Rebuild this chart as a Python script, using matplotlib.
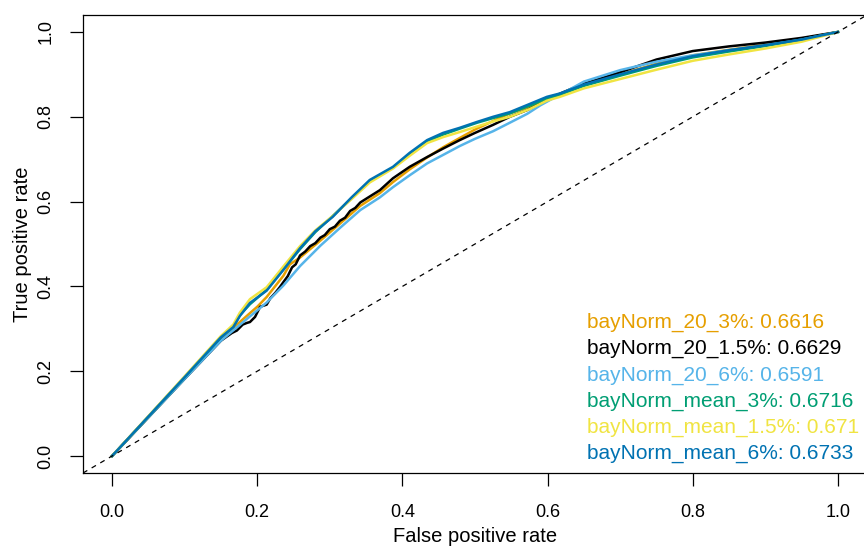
import matplotlib
matplotlib.use("Agg")
import matplotlib.pyplot as plt
from matplotlib.lines import Line2D

plt.rcParams['font.family'] = ['Liberation Sans', 'DejaVu Sans']

# ---- data ----
names = ["bayNorm_20_3%", "bayNorm_20_1.5%", "bayNorm_20_6%",
         "bayNorm_mean_3%", "bayNorm_mean_1.5%", "bayNorm_mean_6%"]
aucs = [0.6616, 0.6629, 0.6591, 0.6716, 0.671, 0.6733]
colors = ["#E69F00", "#000000", "#56B4E9", "#009E73", "#F0E442", "#0072B2"]

fpr_20_3 = [0, 0.05, 0.10, 0.15, 0.18, 0.20, 0.213, 0.236, 0.245, 0.259, 0.287, 0.314, 0.342,
            0.369, 0.387, 0.41, 0.434, 0.456, 0.479, 0.50, 0.525, 0.548, 0.572, 0.594, 0.61,
            0.63, 0.65, 0.70, 0.75, 0.80, 0.85, 0.90, 0.95, 1.0]
tpr_20_3 = [0, 0.092, 0.184, 0.276, 0.322, 0.352, 0.375, 0.425, 0.452, 0.468, 0.508, 0.548, 0.59,
            0.62, 0.646, 0.676, 0.704, 0.728, 0.75, 0.77, 0.79, 0.808, 0.822, 0.835, 0.846,
            0.862, 0.876, 0.9, 0.925, 0.945, 0.958, 0.97, 0.984, 1.0]

fpr_20_15 = [0, 0.05, 0.10, 0.15, 0.165, 0.172, 0.18, 0.186, 0.19, 0.197, 0.204, 0.213, 0.218,
             0.225, 0.231, 0.236, 0.242, 0.248, 0.253, 0.259, 0.266, 0.273, 0.28, 0.287, 0.293,
             0.30, 0.307, 0.314, 0.321, 0.328, 0.335, 0.342, 0.355, 0.369, 0.387, 0.41, 0.434,
             0.456, 0.479, 0.50, 0.525, 0.548, 0.572, 0.59, 0.607, 0.63, 0.65, 0.70, 0.75, 0.80,
             0.85, 0.90, 0.95, 1.0]
tpr_20_15 = [0, 0.091, 0.182, 0.272, 0.29, 0.296, 0.31, 0.314, 0.316, 0.328, 0.352, 0.357, 0.372,
             0.385, 0.398, 0.41, 0.424, 0.445, 0.452, 0.473, 0.482, 0.495, 0.502, 0.515, 0.521,
             0.535, 0.541, 0.555, 0.562, 0.578, 0.585, 0.598, 0.612, 0.627, 0.655, 0.682, 0.705,
             0.725, 0.745, 0.762, 0.781, 0.80, 0.816, 0.832, 0.847, 0.864, 0.878, 0.905, 0.935,
             0.955, 0.966, 0.975, 0.986, 1.0]

fpr_20_6 = [0, 0.05, 0.10, 0.15, 0.18, 0.213, 0.236, 0.259, 0.287, 0.314, 0.342, 0.369, 0.387,
            0.41, 0.434, 0.456, 0.479, 0.50, 0.525, 0.548, 0.572, 0.59, 0.607, 0.63, 0.65, 0.70,
            0.75, 0.80, 0.85, 0.90, 0.95, 1.0]
tpr_20_6 = [0, 0.091, 0.182, 0.272, 0.315, 0.362, 0.402, 0.448, 0.496, 0.538, 0.58, 0.61, 0.634,
            0.662, 0.69, 0.71, 0.731, 0.748, 0.766, 0.786, 0.807, 0.827, 0.843, 0.864, 0.883,
            0.91, 0.93, 0.945, 0.957, 0.968, 0.982, 1.0]

fpr_mean = [0, 0.05, 0.10, 0.15, 0.167, 0.176, 0.19, 0.213, 0.236, 0.259, 0.28, 0.304, 0.33,
            0.355, 0.387, 0.41, 0.434, 0.456, 0.479, 0.503, 0.525, 0.548, 0.575, 0.599, 0.617,
            0.65, 0.70, 0.75, 0.80, 0.85, 0.90, 0.95, 1.0]
tpr_mean_3 = [0, 0.093, 0.186, 0.28, 0.305, 0.332, 0.358, 0.392, 0.44, 0.488, 0.528, 0.566, 0.608,
              0.648, 0.68, 0.712, 0.742, 0.758, 0.772, 0.786, 0.797, 0.808, 0.826, 0.843, 0.852,
              0.873, 0.897, 0.92, 0.94, 0.954, 0.967, 0.981, 1.0]
tpr_mean_15 = [0, 0.094, 0.188, 0.283, 0.31, 0.338, 0.37, 0.398, 0.447, 0.495, 0.532, 0.566, 0.606,
               0.645, 0.678, 0.708, 0.738, 0.752, 0.764, 0.777, 0.789, 0.80, 0.818, 0.838, 0.847,
               0.867, 0.889, 0.911, 0.932, 0.947, 0.961, 0.977, 1.0]
tpr_mean_6 = [0, 0.093, 0.186, 0.28, 0.304, 0.33, 0.361, 0.39, 0.439, 0.49, 0.53, 0.564, 0.61,
              0.651, 0.682, 0.715, 0.745, 0.762, 0.774, 0.788, 0.80, 0.811, 0.83, 0.847, 0.855,
              0.876, 0.9, 0.923, 0.943, 0.957, 0.969, 0.982, 1.0]

curves = [(fpr_20_3, tpr_20_3), (fpr_20_15, tpr_20_15), (fpr_20_6, tpr_20_6),
          (fpr_mean, tpr_mean_3), (fpr_mean, tpr_mean_15), (fpr_mean, tpr_mean_6)]
ticks = [0.0, 0.2, 0.4, 0.6, 0.8, 1.0]
tick_labels = ["0.0", "0.2", "0.4", "0.6", "0.8", "1.0"]

# ---- figure ----
W, H = 864, 548
fig = plt.figure(figsize=(W / 100, H / 100), dpi=100)
ax = fig.add_axes([83 / W, 75 / H, (867 - 83) / W, (473 - 15) / H])
ax.set_xlim(-0.04, 1.04)
ax.set_ylim(-0.04, 1.04)

for (x, y), c in zip(curves, colors):
    ax.plot(x, y, color=c, lw=1.8, solid_joinstyle='round')

ax.axline((0, 0), (1, 1), color='black', lw=0.9, linestyle=(0, (4, 4)))

for s in ax.spines.values():
    s.set_linewidth(0.9)

ax.set_xticks(ticks)
ax.set_xticklabels(tick_labels)
ax.set_yticks(ticks)
ax.set_yticklabels(tick_labels, rotation=90, va='center')
ax.tick_params(axis='both', length=9.4, width=0.9, labelsize=13, pad=13)
ax.tick_params(axis='y', pad=11)

ax.set_xlabel("False positive rate", fontsize=14.5, labelpad=4)
ax.set_ylabel("True positive rate", fontsize=14.5, labelpad=4)

handles = [Line2D([], [], color=c, lw=0) for c in colors]
labels = [f"{n}: {a:.4g}" for n, a in zip(names, aucs)]
ax.legend(handles, labels, loc='lower left', bbox_to_anchor=(587 / W, 75 / H + 10 / H),
          bbox_transform=fig.transFigure, frameon=False, handlelength=0, handletextpad=0,
          labelcolor=colors, fontsize=15.0, labelspacing=0.33, borderpad=0, borderaxespad=0)

fig.savefig("out.png", dpi=100)
